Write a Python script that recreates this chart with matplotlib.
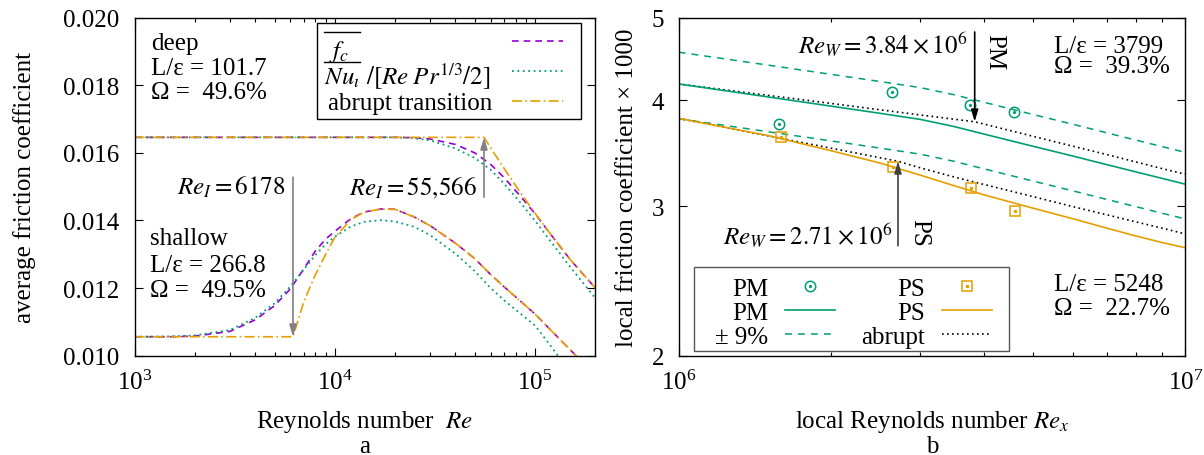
import matplotlib
matplotlib.use("Agg")
import numpy as np
import matplotlib.pyplot as plt
from matplotlib.lines import Line2D
from matplotlib.patches import Rectangle
from matplotlib.ticker import (LogLocator, NullFormatter, NullLocator,
                               FixedLocator, FormatStrFormatter, MultipleLocator)

plt.rcParams['font.family'] = ['Liberation Serif', 'DejaVu Serif']
plt.rcParams['mathtext.fontset'] = 'stix'
plt.rcParams['font.size'] = 18

VIOLET = '#9400d3'
GREEN = '#009e73'
ORANGE = '#e69f00'

# ---------------- panel a: average friction coefficient ----------------
re_a = [1e3, 1.5e3, 2e3, 3e3, 4e3, 5e3, 6e3, 7e3, 8e3, 9e3, 1e4, 1.2e4, 1.4e4,
        1.7e4, 2e4, 2.5e4, 3e4, 4e4, 5e4, 6e4, 7e4, 8.5e4, 1e5, 1.2e5, 1.5e5, 2e5]

deep_fc = [0.01646] * 15 + [0.01645, 0.01641, 0.01625, 0.01600, 0.01566, 0.01527,
                            0.01470, 0.01420, 0.01358, 0.01284, 0.01200]
deep_nu = [0.01646] * 15 + [0.01643, 0.01637, 0.01613, 0.01585, 0.01550, 0.01509,
                            0.01451, 0.01399, 0.01337, 0.01262, 0.01170]
shallow_fc = [0.01056, 0.01056, 0.01058, 0.01072, 0.01106, 0.01148, 0.01198, 0.01257,
              0.01310, 0.01345, 0.01368, 0.01405, 0.01425, 0.01434, 0.01433, 0.01410,
              0.01384, 0.01333, 0.01287, 0.01240, 0.01204, 0.01160, 0.01123, 0.01075,
              0.01017, 0.00942]
shallow_nu = [0.01056, 0.01057, 0.01060, 0.01076, 0.01112, 0.01155, 0.01205, 0.01255,
              0.01298, 0.01330, 0.01352, 0.01382, 0.01396, 0.01401, 0.01397, 0.01381,
              0.01356, 0.01302, 0.01250, 0.01200, 0.01164, 0.01123, 0.01089, 0.01028,
              0.00950, 0.00850]

re_abrupt_deep = [1e3, 55566, 6e4, 7e4, 8.5e4, 1e5, 1.2e5, 1.5e5, 2e5]
abrupt_deep = [0.01646, 0.01646, 0.01615, 0.01554, 0.01480, 0.01421, 0.01358, 0.01284, 0.01200]
re_abrupt_shallow = [1e3, 6178, 7e3, 8e3, 9e3, 1e4, 1.2e4, 1.4e4, 1.7e4, 2e4, 2.5e4, 3e4,
                     4e4, 5e4, 6e4, 7e4, 8.5e4, 1e5, 1.2e5, 1.5e5, 2e5]
abrupt_shallow = [0.01056, 0.01056, 0.01160, 0.01240, 0.01300, 0.01350, 0.01402, 0.01425,
                  0.01434, 0.01433, 0.01410, 0.01384, 0.01333, 0.01287, 0.01240, 0.01204,
                  0.01160, 0.01123, 0.01075, 0.01017, 0.00942]

re_i_shallow, re_i_deep = 6178, 55566
plateau_shallow, plateau_deep = 0.01056, 0.01646

# ---------------- panel b: local friction coefficient ----------------
re_b = [1e6, 1.5e6, 2e6, 2.5e6, 3e6, 3.5e6, 4e6, 5e6, 6e6, 7e6, 8e6, 9e6, 1e7]
pm_line = [4.178, 4.034, 3.934, 3.858, 3.795, 3.722, 3.648, 3.529, 3.436, 3.357, 3.291, 3.234, 3.184]
ps_line = [3.806, 3.633, 3.486, 3.371, 3.263, 3.170, 3.094, 2.984, 2.899, 2.826, 2.766, 2.718, 2.68]

re_abrupt_pm = [1e6, 1.5e6, 2e6, 2.5e6, 3e6, 3.5e6, 3.84e6, 4e6, 5e6, 6e6, 7e6, 8e6, 9e6, 1e7]
abrupt_pm = [4.178, 4.051, 3.963, 3.895, 3.841, 3.797, 3.771, 3.748, 3.626, 3.529, 3.450,
             3.381, 3.321, 3.271]
re_abrupt_ps = [1e6, 1.5e6, 2e6, 2.5e6, 2.71e6, 3e6, 3.5e6, 4e6, 5e6, 6e6, 7e6, 8e6, 9e6, 1e7]
abrupt_ps = [3.806, 3.630, 3.510, 3.420, 3.388, 3.328, 3.246, 3.182, 3.079, 2.996, 2.930,
             2.874, 2.826, 2.782]

re_pm_meas = [1.58e6, 2.64e6, 3.76e6, 4.60e6]
cf_pm_meas = [3.75, 4.09, 3.95, 3.87]
re_ps_meas = [1.59e6, 2.65e6, 3.78e6, 4.62e6]
cf_ps_meas = [3.62, 3.34, 3.15, 2.96]

band = 0.09
re_w_pm, re_w_ps = 3.84e6, 2.71e6

fig = plt.figure(figsize=(12.04, 4.56), dpi=100)
ax1 = fig.add_axes([0.1118, 0.2178, 0.3827, 0.7412])
ax2 = fig.add_axes([0.5636, 0.2178, 0.4209, 0.7412])

for ax in (ax1, ax2):
    for s in ax.spines.values():
        s.set_linewidth(1.0)
    ax.tick_params(which='both', direction='in', top=True, right=True, width=0.8)
    ax.tick_params(which='major', length=5.5)
    ax.tick_params(which='minor', length=3)

# ---- panel a ----
ls_fc = dict(color=VIOLET, lw=1.2, ls=(0, (4, 3)))
ls_nu = dict(color=GREEN, lw=1.3, ls=(0, (1, 2)))
ls_ab = dict(color=ORANGE, lw=1.2, ls=(0, (6, 2, 1, 2)))

ax1.plot(re_a, deep_fc, **ls_fc)
ax1.plot(re_a, shallow_fc, **ls_fc)
ax1.plot(re_a, deep_nu, **ls_nu)
ax1.plot(re_a, shallow_nu, **ls_nu)
ax1.plot(re_abrupt_deep, abrupt_deep, **ls_ab)
ax1.plot(re_abrupt_shallow, abrupt_shallow, **ls_ab)

ax1.set_xscale('log')
ax1.set_xlim(1e3, 2e5)
ax1.set_ylim(0.010, 0.020)
ax1.yaxis.set_major_locator(MultipleLocator(0.002))
ax1.yaxis.set_major_formatter(FormatStrFormatter('%.3f'))
ax1.xaxis.set_major_locator(LogLocator(base=10))
ax1.xaxis.set_minor_locator(LogLocator(base=10, subs=np.arange(2, 10)))
ax1.xaxis.set_minor_formatter(NullFormatter())
ax1.tick_params(axis='y', pad=11)
ax1.tick_params(axis='x', pad=10)

ax1.set_ylabel('average friction coefficient')
ax1.yaxis.set_label_coords(-0.240, 0.5)
ax1.yaxis.label.set_verticalalignment('center')
ax1.set_xlabel('Reynolds number  $Re$')
ax1.xaxis.set_label_coords(0.5, -0.192)
ax1.xaxis.label.set_verticalalignment('center')
ax1.text(0.5, -0.267, 'a', transform=ax1.transAxes, ha='center', va='center')

arrow_gray = dict(arrowstyle='-|>,head_length=0.5,head_width=0.15', color='#808080',
                  lw=1.2, shrinkA=0, shrinkB=0, mutation_scale=14)
ax1.annotate('', xy=(re_i_shallow, plateau_shallow), xytext=(re_i_shallow, 0.01528),
             arrowprops=arrow_gray)
ax1.annotate('', xy=(re_i_deep, plateau_deep), xytext=(re_i_deep, 0.01469),
             arrowprops=arrow_gray)
ax1.annotate(r'$Re_I = 6178$', xy=(re_i_shallow, 0.4784), xycoords=('data', 'axes fraction'),
             xytext=(-5, 0), textcoords='offset points', ha='right', va='baseline')
ax1.annotate(r'$Re_I = 55{,}566$', xy=(re_i_deep, 0.4784), xycoords=('data', 'axes fraction'),
             xytext=(-5, 0), textcoords='offset points', ha='right', va='baseline')

for txt, y in (('deep', 0.9074), ('L/ε = 101.7', 0.8334), ('Ω =  49.6%', 0.7615)):
    ax1.text(0.0352, y, txt, transform=ax1.transAxes, ha='left', va='baseline')
for txt, y in (('shallow', 0.3305), ('L/ε = 266.8', 0.2515), ('Ω =  49.5%', 0.1775)):
    ax1.text(0.0338, y, txt, transform=ax1.transAxes, ha='left', va='baseline')

# key for panel a: labels on the left, line samples on the right
ax1.add_patch(Rectangle((0.3958, 0.7003), 0.5730, 0.2840, transform=ax1.transAxes,
                        fc='white', ec='black', lw=1.0, zorder=5))
key_rows = [(0.9302, ls_fc), (0.8432, ls_nu), (0.7544, ls_ab)]
for y, style in key_rows:
    ax1.add_line(Line2D([0.8184, 0.9303], [y, y], transform=ax1.transAxes, zorder=6, **style))
ax1.text(0.4219, 0.8837, r'$f_c$', transform=ax1.transAxes, ha='left', va='baseline', zorder=6)
ax1.text(0.4104, 0.8038, r'$Nu_\iota$', transform=ax1.transAxes,
         ha='left', va='baseline', zorder=6)
ax1.text(0.5022, 0.8038, r'$/[Re\;Pr^{1/3}/2]$', transform=ax1.transAxes,
         ha='left', va='baseline', zorder=6)
ax1.text(0.4207, 0.7299, 'abrupt transition', transform=ax1.transAxes,
         ha='left', va='baseline', zorder=6)
for y in (0.9568, 0.8680):
    ax1.add_line(Line2D([0.4104, 0.4898], [y, y], transform=ax1.transAxes,
                        color='black', lw=1.0, zorder=6))

# ---- panel b ----
pm_line_arr = np.array(pm_line)
ax2.plot(re_b, pm_line_arr * (1 + band), color=GREEN, lw=1.1, ls=(0, (4.5, 4)))
ax2.plot(re_b, pm_line_arr * (1 - band), color=GREEN, lw=1.1, ls=(0, (4.5, 4)))
ax2.plot(re_abrupt_pm, abrupt_pm, color='black', lw=1.2, ls=(0, (1, 2)))
ax2.plot(re_abrupt_ps, abrupt_ps, color='black', lw=1.2, ls=(0, (1, 2)))
h_pm_line, = ax2.plot(re_b, pm_line, color=GREEN, lw=1.2)
h_ps_line, = ax2.plot(re_b, ps_line, color=ORANGE, lw=1.2)
h_pm_pts, = ax2.plot(re_pm_meas, cf_pm_meas, ls='none', marker='o', ms=7.5, mfc='none',
                     mec=GREEN, mew=1.1)
h_pm_dot, = ax2.plot(re_pm_meas, cf_pm_meas, ls='none', marker='o', ms=1.3, mfc=GREEN,
                     mec=GREEN)
h_ps_pts, = ax2.plot(re_ps_meas, cf_ps_meas, ls='none', marker='s', ms=7.5, mfc='none',
                     mec=ORANGE, mew=1.1)
h_ps_dot, = ax2.plot(re_ps_meas, cf_ps_meas, ls='none', marker='s', ms=1.3, mfc=ORANGE,
                     mec=ORANGE)

ax2.set_xscale('log')
ax2.set_yscale('log')
ax2.set_xlim(1e6, 1e7)
ax2.set_ylim(2, 5)
ax2.yaxis.set_major_locator(FixedLocator([2, 3, 4, 5]))
ax2.yaxis.set_major_formatter(FormatStrFormatter('%g'))
ax2.yaxis.set_minor_locator(NullLocator())
ax2.xaxis.set_major_locator(LogLocator(base=10))
ax2.xaxis.set_minor_locator(LogLocator(base=10, subs=np.arange(2, 10)))
ax2.xaxis.set_minor_formatter(NullFormatter())
ax2.tick_params(axis='y', pad=10.5)
ax2.tick_params(axis='x', pad=10)

ax2.set_ylabel('local friction coefficient × 1000')
ax2.yaxis.set_label_coords(-0.102, 0.5)
ax2.yaxis.label.set_verticalalignment('center')
ax2.set_xlabel('local Reynolds number $Re_x$')
ax2.xaxis.set_label_coords(0.5, -0.192)
ax2.xaxis.label.set_verticalalignment('center')
ax2.text(0.5, -0.267, 'b', transform=ax2.transAxes, ha='center', va='center')

arrow_k = dict(arrowstyle='-|>,head_length=0.5,head_width=0.15', color='black',
               lw=1.2, shrinkA=0, shrinkB=0, mutation_scale=14)
ax2.annotate('', xy=(re_w_pm, 3.771), xytext=(re_w_pm, 4.81), arrowprops=arrow_k)
ax2.annotate('', xy=(re_w_ps, 3.388), xytext=(re_w_ps, 2.695),
             arrowprops=dict(arrow_k, color='#404040'))
ax2.annotate(r'$Re_W = 3.84 \times 10^6$', xy=(re_w_pm, 0.8976),
             xycoords=('data', 'axes fraction'), xytext=(-5, 0), textcoords='offset points',
             ha='right', va='baseline')
ax2.annotate(r'$Re_W = 2.71 \times 10^6$', xy=(re_w_ps, 0.3305),
             xycoords=('data', 'axes fraction'), xytext=(-4, 0), textcoords='offset points',
             ha='right', va='baseline')
ax2.annotate('PM', xy=(re_w_pm, 0.9024), xycoords=('data', 'axes fraction'),
             xytext=(14.4, 0), textcoords='offset points', ha='center', va='center',
             rotation=-90)
ax2.annotate('PS', xy=(re_w_ps, 0.365), xycoords=('data', 'axes fraction'),
             xytext=(15, 0), textcoords='offset points', ha='center', va='center',
             rotation=-90)

for txt, y in (('L/ε = 3799', 0.8976), ('Ω =  39.3%', 0.8385)):
    ax2.text(0.740, y, txt, transform=ax2.transAxes, ha='left', va='baseline')
for txt, y in (('L/ε = 5248', 0.1954), ('Ω =  22.7%', 0.1234)):
    ax2.text(0.740, y, txt, transform=ax2.transAxes, ha='left', va='baseline')

# key for panel b: frame drawn separately, entries laid out by legend
ax2.add_patch(Rectangle((0.0308, 0.0148), 0.6209, 0.2467, transform=ax2.transAxes,
                        fc='white', ec='#555555', lw=1.0, zorder=4.5))
h_band = Line2D([], [], color=GREEN, lw=1.1, ls=(0, (4.5, 4)))
h_abrupt = Line2D([], [], color='black', lw=1.2, ls=(0, (1, 2)))
leg = ax2.legend([(h_pm_pts, h_pm_dot), h_pm_line, h_band, (h_ps_pts, h_ps_dot), h_ps_line, h_abrupt],
                 ['PM', 'PM', '± 9%', 'PS', 'PS', 'abrupt'],
                 ncol=2, markerfirst=False, loc='lower left',
                 bbox_to_anchor=(0.0718, 0.024), borderaxespad=0,
                 handlelength=2.0, handletextpad=0.68, columnspacing=1.04,
                 labelspacing=0.05, borderpad=0.0, frameon=False)
leg.set_zorder(5)

fig.savefig('out.png', dpi=100)
